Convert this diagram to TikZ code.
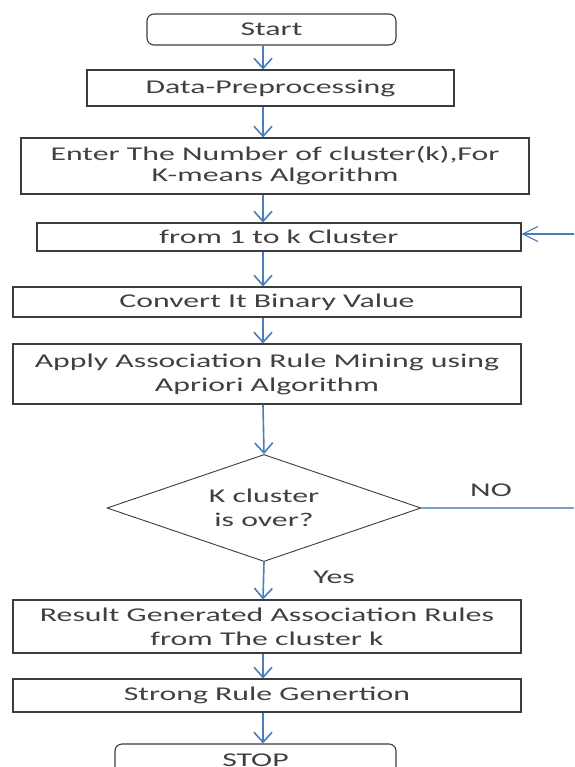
\documentclass[tikz,border=0pt]{standalone}
\usepackage{fontspec}
\setmainfont[FakeStretch=1.63]{Carlito}
\usetikzlibrary{shapes.geometric,arrows.meta}
\definecolor{flowblue}{HTML}{4A7EBB}
\definecolor{boxgray}{HTML}{3C3C3C}
\definecolor{txtgray}{HTML}{404040}
\begin{document}
\begin{tikzpicture}[x=1pt,y=-1pt,
    box/.style={draw=boxgray,line width=1.1pt,inner sep=0pt,align=center,text=txtgray,font=\fontsize{19.5}{24}\selectfont},
    term/.style={box,rounded corners=7pt},
    decision/.style={box,diamond,shape aspect=2.9,line width=0.9pt},
    varrow/.style={draw=flowblue,line width=1.6pt,-{Straight Barb[length=10pt,width=18pt]}},
    harrow/.style={draw=flowblue,line width=1.2pt,-{Straight Barb[length=15pt,width=15pt]}},
    lbl/.style={text=txtgray,inner sep=0pt,font=\fontsize{19.5}{24}\selectfont}]
    \clip (0,0) rectangle (574,767);
    \node[term,minimum width=249pt,minimum height=31pt] (start) at (271.5,29.5) {Start};
    \node[box,minimum width=367pt,minimum height=36pt] (prep) at (270.5,88) {Data-Preprocessing};
    \node[box,minimum width=508pt,minimum height=56pt,font=\fontsize{19.5}{21}\selectfont] (enter) at (275,166) {Enter The Number of cluster(k),For\\K-means Algorithm};
    \node[box,minimum width=484pt,minimum height=28pt] (loop) at (279,237) {from 1 to k Cluster};
    \node[box,minimum width=508pt,minimum height=30pt] (binary) at (267,302) {Convert It Binary Value};
    \node[box,minimum width=508pt,minimum height=60pt] (apriori) at (267,374) {Apply Association Rule Mining using\\Apriori Algorithm};
    \node[decision,minimum width=314pt,minimum height=107pt] (over) at (264,508) {K cluster\\is over?};
    \node[box,minimum width=508pt,minimum height=53pt] (result) at (267,626.5) {Result Generated Association Rules\\from The cluster k};
    \node[box,minimum width=508pt,minimum height=33pt] (strong) at (267,695.5) {Strong Rule Genertion};
    \node[term,minimum width=281pt,minimum height=32pt] (stop) at (255.5,760) {STOP};
    \node[lbl] (no) at (491,490) {NO};
    \node[lbl] (yes) at (334,577) {Yes};
    \coordinate (axis) at (263,0);
    \coordinate (noend) at (574,508);
    \coordinate (loopin) at (574,234);
    \draw[varrow] (start.south -| axis) -- (prep.north -| axis);
    \draw[varrow] (prep.south -| axis) -- (enter.north -| axis);
    \draw[varrow] (enter.south -| axis) -- (loop.north -| axis);
    \draw[varrow] (loop.south -| axis) -- (binary.north -| axis);
    \draw[varrow] (binary.south -| axis) -- (apriori.north -| axis);
    \draw[varrow] (apriori.south -| axis) -- (over.north);
    \draw[varrow] (over.south) -- (result.north -| axis);
    \draw[varrow] (result.south -| axis) -- (strong.north -| axis);
    \draw[varrow] (strong.south -| axis) -- (stop.north -| axis);
    \draw[flowblue!75,line width=1.3pt] (over.east) -- (noend);
    \draw[harrow] (loopin) -- (loop.east |- loopin);
\end{tikzpicture}
\end{document}
